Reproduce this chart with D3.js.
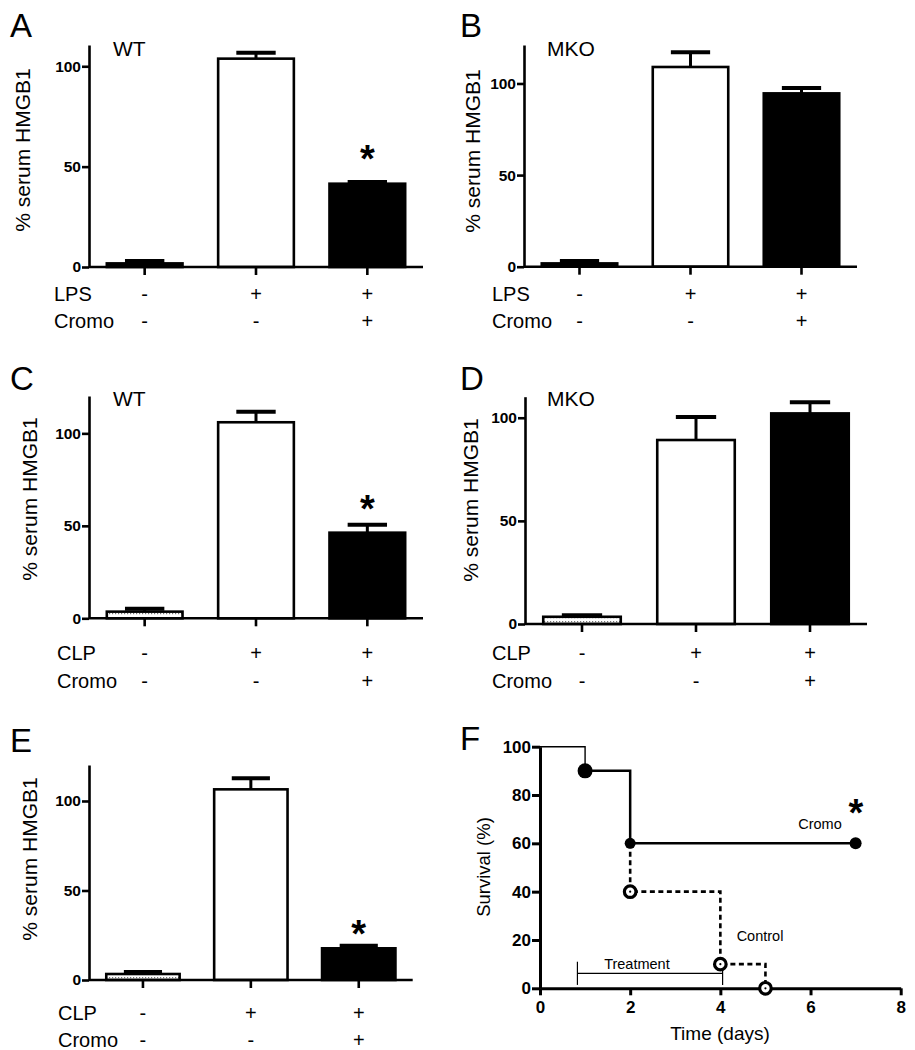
<!DOCTYPE html>
<html><head><meta charset="utf-8">
<script src="https://cdn.jsdelivr.net/npm/d3@7"></script>
<style>
body{margin:0;background:#fff;}
text{font-family:"Liberation Sans",Arial,Helvetica,sans-serif;fill:#000;}
</style></head>
<body>
<script>
// ---------- data ----------
const barGroups = [0, 1, 2];
const lpsRow = ["-", "+", "+"];
const clpRow = ["-", "+", "+"];
const cromoRow = ["-", "-", "+"];
const barYTicks = [0, 50, 100];

const valuesA = [1.8, 103.8, 41.5];  const semA = [1.2, 3.0, 0.8];
const valuesB = [1.8, 109.0, 94.6];  const semB = [1.3, 8.0, 2.9];
const valuesC = [3.6, 106.0, 46.3];  const semC = [1.6, 5.7, 4.3];
const valuesD = [3.5, 89.2, 102.1];  const semD = [0.7, 11.1, 5.4];
const valuesE = [3.35, 106.5, 17.7]; const semE = [1.15, 6.2, 1.5];
const starsA = [2], starsB = [], starsC = [2], starsD = [], starsE = [2];

const sharedTimes = [0, 1];        const sharedSurv = [100, 90];
const cromoTimes = [1, 2, 7];      const cromoSurv = [90, 60, 60];
const controlTimes = [2, 2, 4, 5]; const controlSurv = [60, 40, 10, 0];
const controlMarkTimes = [2, 4, 5]; const controlMarkSurv = [40, 10, 0];
const survXTicks = [0, 2, 4, 6, 8];
const survYTicks = [0, 20, 40, 60, 80, 100];
const treatmentWindow = [0.83, 4.05];

// ---------- drawing ----------
const svg = d3.select("body").append("svg").attr("width", 915).attr("height", 1050);
const defs = svg.append("defs");
const pat = defs.append("pattern").attr("id", "dots").attr("patternUnits", "userSpaceOnUse")
  .attr("width", 3).attr("height", 4);
pat.append("rect").attr("width", 3).attr("height", 4).attr("fill", "#fff");
pat.append("rect").attr("x", 1).attr("y", 1).attr("width", 1.2).attr("height", 1.2).attr("fill", "#777");

function panelLetter(t, x, y) {
  svg.append("text").attr("x", x).attr("y", y).attr("font-size", 33).text(t);
}

function barPanel(p) {
  const g = svg.append("g");
  const x = d3.scaleBand().domain(barGroups).range([p.x0, p.x1]).paddingInner(0.32).paddingOuter(0.16);
  const y = d3.scaleLinear().domain([0, p.yMax]).range([p.zeroY, p.topY]);
  const bw = x.bandwidth();
  const capW = bw * 0.52;

  const eb = g.append("g");
  barGroups.forEach(i => {
    const cx = x(i) + bw / 2;
    eb.append("line").attr("x1", cx).attr("x2", cx).attr("y1", y(p.values[i])).attr("y2", y(p.values[i] + p.sem[i]))
      .attr("stroke", "#000").attr("stroke-width", 3);
    eb.append("line").attr("x1", cx - capW / 2).attr("x2", cx + capW / 2)
      .attr("y1", y(p.values[i] + p.sem[i])).attr("y2", y(p.values[i] + p.sem[i]))
      .attr("stroke", "#000").attr("stroke-width", 4);
  });
  g.selectAll("rect.bar").data(barGroups).join("rect").attr("class", "bar")
    .attr("x", i => x(i)).attr("width", bw)
    .attr("y", i => y(p.values[i])).attr("height", i => p.zeroY - y(p.values[i]))
    .attr("fill", i => p.fills[i]).attr("stroke", "#000").attr("stroke-width", 2.6);

  const ya = g.append("g").attr("transform", `translate(${p.x0},0)`)
    .call(d3.axisLeft(y).tickValues(barYTicks).tickSize(7).tickSizeOuter(0).tickPadding(1));
  ya.selectAll("path,line").attr("stroke", "#000").attr("stroke-width", 2.6);
  ya.selectAll("text").attr("font-size", 15.5).attr("font-weight", "bold").attr("fill", "#000")
    .attr("font-family", "Liberation Sans, Arial, sans-serif");
  const xa = g.append("g").attr("transform", `translate(0,${p.zeroY})`)
    .call(d3.axisBottom(x).tickSize(8).tickSizeOuter(0).tickFormat(""));
  xa.select("path").attr("d", `M${p.x0},0H${p.x1}`);
  xa.selectAll("path,line").attr("stroke", "#000").attr("stroke-width", 2.6);

  g.append("text").attr("transform", `translate(${p.labX},${p.labY}) rotate(-90)`)
    .attr("text-anchor", "middle").attr("dominant-baseline", "central").attr("font-size", 21)
    .text("% serum HMGB1");
  g.append("text").attr("x", p.tagX).attr("y", p.tagY).attr("font-size", 21).text(p.tag);
  p.stars.forEach(i => {
    g.append("text").attr("x", x(i) + bw / 2).attr("y", p.starY + 19).attr("text-anchor", "middle")
      .attr("font-size", 38).attr("font-weight", "bold").text("*");
  });
  const rows = [[p.row1Name, p.row1, p.zeroY + p.r1], ["Cromo", cromoRow, p.zeroY + p.r2]];
  rows.forEach(([name, signs, ry]) => {
    g.append("text").attr("x", p.rowX).attr("y", ry).attr("dominant-baseline", "central")
      .attr("font-size", 20).text(name);
    g.selectAll(null).data(barGroups).join("text")
      .attr("x", i => x(i) + bw / 2).attr("y", ry).attr("text-anchor", "middle")
      .attr("dominant-baseline", "central").attr("font-size", 20).text(i => signs[i]);
  });
}

panelLetter("A", 10, 37);
panelLetter("B", 460, 37);
panelLetter("C", 10, 390);
panelLetter("D", 460, 390);
panelLetter("E", 10, 752);
panelLetter("F", 460, 750);

barPanel({x0: 89, x1: 423, zeroY: 267, topY: 45, yMax: 110.6, values: valuesA, sem: semA,
  fills: ["#000", "#fff", "#000"], stars: starsA, starY: 153, tag: "WT", tagX: 113, tagY: 56,
  labX: 22, labY: 150, row1Name: "LPS", row1: lpsRow, rowX: 54, r1: 27, r2: 54});
barPanel({x0: 524, x1: 857, zeroY: 266.7, topY: 45, yMax: 121, values: valuesB, sem: semB,
  fills: ["#000", "#fff", "#000"], stars: starsB, starY: 0, tag: "MKO", tagX: 547, tagY: 56,
  labX: 472, labY: 151, row1Name: "LPS", row1: lpsRow, rowX: 492, r1: 27, r2: 54});
barPanel({x0: 89, x1: 423, zeroY: 618.3, topY: 396, yMax: 120.2, values: valuesC, sem: semC,
  fills: ["url(#dots)", "#fff", "#000"], stars: starsC, starY: 503, tag: "WT", tagX: 113, tagY: 406,
  labX: 29, labY: 499, row1Name: "CLP", row1: clpRow, rowX: 57, r1: 35, r2: 63});
barPanel({x0: 525, x1: 867, zeroY: 624, topY: 396.7, yMax: 110.2, values: valuesD, sem: semD,
  fills: ["url(#dots)", "#fff", "#000"], stars: starsD, starY: 0, tag: "MKO", tagX: 547, tagY: 406,
  labX: 470, labY: 500, row1Name: "CLP", row1: clpRow, rowX: 492, r1: 29, r2: 57});
barPanel({x0: 89, x1: 412.7, zeroY: 980, topY: 765, yMax: 120.1, values: valuesE, sem: semE,
  fills: ["url(#dots)", "#fff", "#000"], stars: starsE, starY: 928, tag: "", tagX: 0, tagY: 0,
  labX: 29, labY: 859, row1Name: "CLP", row1: clpRow, rowX: 58, r1: 33, r2: 60});

// ---------- survival panel F ----------
(function() {
  const g = svg.append("g");
  const x = d3.scaleLinear().domain([0, 8]).range([540, 900.7]);
  const y = d3.scaleLinear().domain([0, 100]).range([988.3, 746.7]);
  const step = d3.line().x(d => x(d[0])).y(d => y(d[1])).curve(d3.curveStepAfter);

  const ty = y(6.2);
  g.append("line").attr("x1", x(treatmentWindow[0])).attr("x2", x(treatmentWindow[1]))
    .attr("y1", ty).attr("y2", ty).attr("stroke", "#000").attr("stroke-width", 1.2);
  treatmentWindow.forEach(t => g.append("line").attr("x1", x(t)).attr("x2", x(t))
    .attr("y1", y(11)).attr("y2", y(1.4)).attr("stroke", "#000").attr("stroke-width", 1.2));
  g.append("text").attr("x", x(2.15)).attr("y", ty - 9).attr("text-anchor", "middle")
    .attr("dominant-baseline", "central").attr("font-size", 14.5).text("Treatment");

  g.append("path").attr("d", step(sharedTimes.map((t, i) => [t, sharedSurv[i]])))
    .attr("fill", "none").attr("stroke", "#000").attr("stroke-width", 1.4);
  g.append("path").attr("d", step(controlTimes.map((t, i) => [t, controlSurv[i]])))
    .attr("fill", "none").attr("stroke", "#000").attr("stroke-width", 2.6).attr("stroke-dasharray", "5,3.5");
  g.append("path").attr("d", step(cromoTimes.map((t, i) => [t, cromoSurv[i]])))
    .attr("fill", "none").attr("stroke", "#000").attr("stroke-width", 2.5);

  const ya = g.append("g").attr("transform", "translate(540,0)")
    .call(d3.axisLeft(y).tickValues(survYTicks).tickSize(8).tickSizeOuter(0).tickPadding(1));
  ya.selectAll("path,line").attr("stroke", "#000").attr("stroke-width", 3);
  ya.selectAll("text").attr("font-size", 17).attr("font-weight", "bold").attr("fill", "#000")
    .attr("font-family", "Liberation Sans, Arial, sans-serif");
  const xa = g.append("g").attr("transform", `translate(0,${y(0)})`)
    .call(d3.axisBottom(x).tickValues(survXTicks).tickSize(7).tickSizeOuter(0).tickPadding(6));
  xa.selectAll("path,line").attr("stroke", "#000").attr("stroke-width", 3);
  xa.selectAll("text").attr("font-size", 17).attr("font-weight", "bold").attr("fill", "#000")
    .attr("font-family", "Liberation Sans, Arial, sans-serif");

  const rr = [7.5, 5.5, 6];
  g.selectAll("circle.cromo").data(cromoTimes).join("circle").attr("class", "cromo")
    .attr("cx", t => x(t)).attr("cy", (t, i) => y(cromoSurv[i])).attr("r", (t, i) => rr[i]).attr("fill", "#000");
  g.selectAll("circle.ctrl").data(controlMarkTimes).join("circle").attr("class", "ctrl")
    .attr("cx", t => x(t)).attr("cy", (t, i) => y(controlMarkSurv[i])).attr("r", 5.8)
    .attr("fill", "#fff").attr("stroke", "#000").attr("stroke-width", 3.2);
  g.selectAll("circle.ctrldot").data(controlMarkTimes).join("circle").attr("class", "ctrldot")
    .attr("cx", t => x(t)).attr("cy", (t, i) => y(controlMarkSurv[i])).attr("r", 1.1).attr("fill", "#000");

  g.append("text").attr("x", 820).attr("y", 824).attr("text-anchor", "middle").attr("dominant-baseline", "central")
    .attr("font-size", 14.5).text("Cromo");
  g.append("text").attr("x", 760).attr("y", 936).attr("text-anchor", "middle").attr("dominant-baseline", "central")
    .attr("font-size", 14.5).text("Control");
  g.append("text").attr("x", 856).attr("y", 826).attr("text-anchor", "middle")
    .attr("font-size", 38).attr("font-weight", "bold").text("*");
  g.append("text").attr("transform", "translate(483,867) rotate(-90)").attr("text-anchor", "middle")
    .attr("dominant-baseline", "central").attr("font-size", 18.5).text("Survival (%)");
  g.append("text").attr("x", 720).attr("y", 1033).attr("text-anchor", "middle").attr("dominant-baseline", "central")
    .attr("font-size", 19).text("Time (days)");
})();
</script>
</body></html>
